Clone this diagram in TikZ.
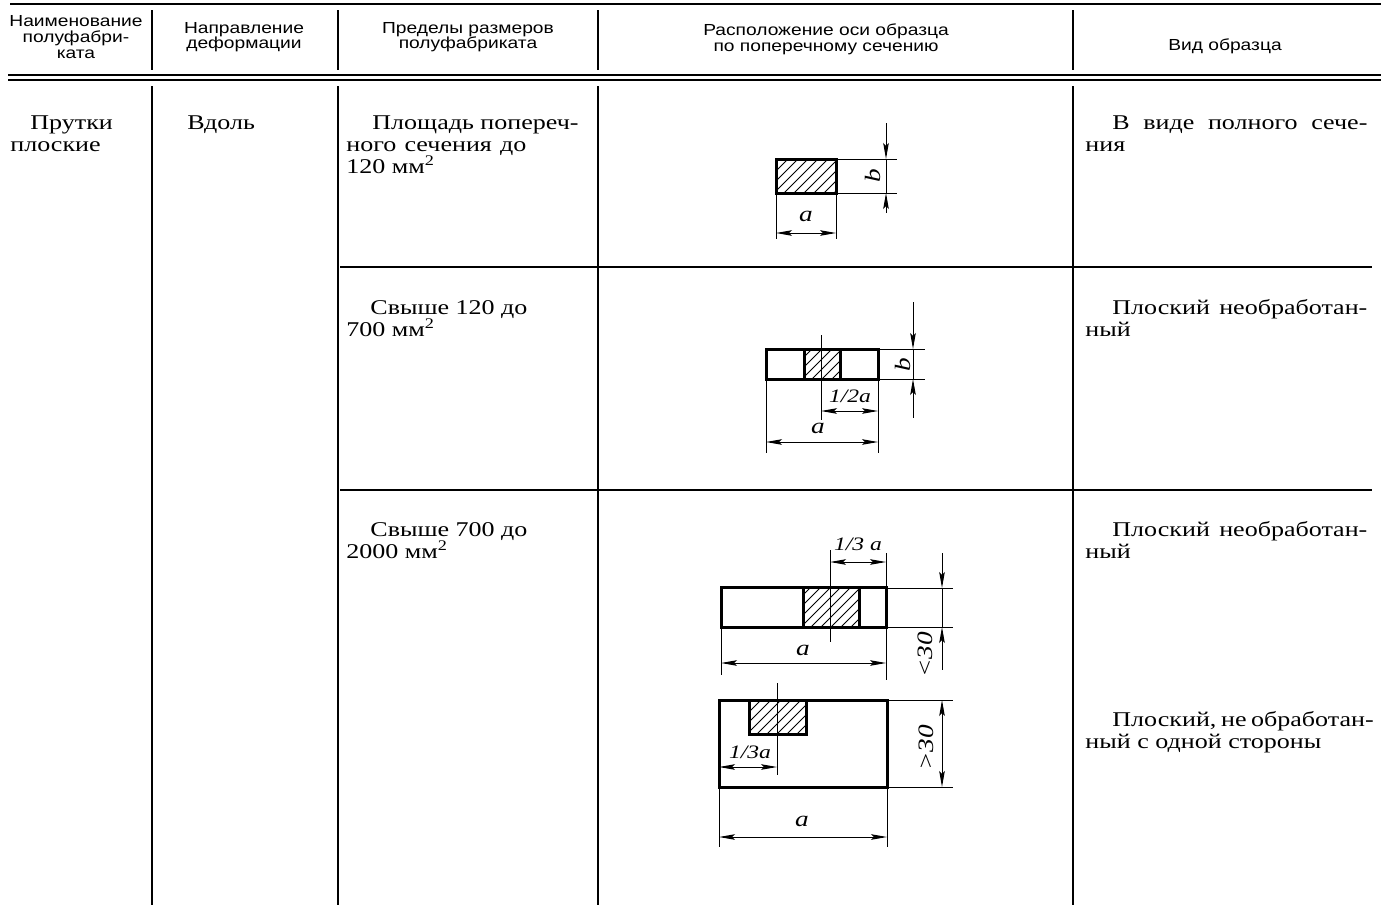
\documentclass[tikz,border=0pt]{standalone}
\usepackage{fontspec}
\setmainfont[FakeStretch=1.24]{Liberation Serif}
\newfontfamily\headfont[FakeStretch=1.2]{Liberation Sans}
\usetikzlibrary{arrows.meta}

\newcommand{\bodyfont}{\fontsize{10.5}{11}\selectfont\setlength{\lineskiplimit}{-20pt}}
\newcommand{\hatchbox}[4]{%
  \begin{scope}
    \clip (#1,#2) rectangle (#3,#4);
    \foreach \k in {-72,-62,...,90}
      \draw[hatch] ({#1+\k},#4) -- ++(100,-100);
  \end{scope}
  \draw[outline] (#1,#2) rectangle (#3,#4);
}

\begin{document}
\begin{tikzpicture}[x=0.5pt,y=-0.5pt,>={Stealth[length=8pt,width=2.8pt,inset=1.5pt]},
  rule/.style={line width=0.8pt},
  outline/.style={line width=1.5pt},
  hatch/.style={line width=0.5pt},
  thin/.style={line width=0.5pt},
  head/.style={align=center,inner sep=0pt,font=\headfont\fontsize{8}{7.8}\selectfont},
  body/.style={anchor=base west,align=left,inner sep=0pt,font=\bodyfont},
  dim/.style={inner sep=0pt,font=\itshape\fontsize{11}{11}\selectfont},
  smalldim/.style={inner sep=0pt,font=\itshape\fontsize{9.5}{9.5}\selectfont}]
\useasboundingbox (0,0) rectangle (1381,905);

% table rules
\draw[line width=1.2pt] (10,4) -- (1381,4);
\draw[line width=0.6pt] (8,75) -- (1381,75);
\draw[line width=0.9pt] (8,80) -- (1381,80);
\foreach \cx in {152,338,598,1073} {
  \draw[rule] (\cx,10) -- (\cx,70);
  \draw[rule] (\cx,86) -- (\cx,905);
}
\draw[line width=0.6pt] (340,267) -- (1372,267);
\draw[line width=0.6pt] (340,490) -- (1372,490);

% header
\node[head] (h1) at (76,37) {Наименование\\полуфабри-\\ката};
\node[head] (h2) at (244,37) {Направление\\деформации};
\node[head] (h3) at (468,37) {Пределы размеров\\полуфабриката};
\node[head] (h4) at (826,39) {Расположение оси образца\\по поперечному сечению};
\node[head] (h5) at (1225,46) {Вид образца};

% body (base = last line)
\node[body] (name) at (10,151) {\hspace*{10pt}Прутки\\плоские};
\node[body] (dir) at (187,129) {Вдоль};
\node[body] (lim1) at (346,173) {\hspace*{13pt}Площадь попереч-\\\makebox[90pt][s]{ного сечения до}\\120 мм\textsuperscript{2}};
\node[body] (lim2) at (346,336) {\hspace*{12pt}Свыше 120 до\\700 мм\textsuperscript{2}};
\node[body] (lim3) at (346,558) {\hspace*{12pt}Свыше 700 до\\2000 мм\textsuperscript{2}};
\node[body] (kind1) at (1085,151) {\hspace*{13.5pt}\makebox[127.5pt][s]{В виде полного сече-}\\ния};
\node[body] (kind2) at (1085,336) {\hspace*{13.5pt}\makebox[127.5pt][s]{Плоский необработан-}\\ный};
\node[body] (kind3) at (1085,558) {\hspace*{13.5pt}\makebox[127.5pt][s]{Плоский необработан-}\\ный};
\node[body] (kind4) at (1085,748) {\hspace*{13.5pt}\makebox[127.5pt][s]{Плоский, не обработан-}\\ный с одной стороны};

% sketch 1: full section
\hatchbox{776}{159}{836}{193}
\draw[thin] (836,159) -- (897,159) (836,193) -- (897,193);
\draw[thin,->] (886,123) -- (886,159);
\draw[thin] (886,159) -- (886,193);
\draw[thin,<-] (886,193) -- (886,213);
\draw[thin] (776,193) -- (776,239) (836,193) -- (836,239);
\draw[thin,<->] (776,233) -- (836,233);
\node[dim,rotate=90] (b1) at (873,176) {b};
\node[dim] (a1) at (806,216) {a};

% sketch 2
\draw[outline] (766,349) rectangle (878,379);
\hatchbox{804}{349}{840}{379}
\draw[thin] (821,335) -- (821,420);
\draw[thin] (878,379) -- (878,453) (766,379) -- (766,453);
\draw[thin] (878,349) -- (925,349) (878,379) -- (925,379);
\draw[thin,->] (913,302) -- (913,349);
\draw[thin] (913,349) -- (913,379);
\draw[thin,<-] (913,379) -- (913,418);
\draw[thin,<->] (821,411) -- (878,411);
\draw[thin,<->] (766,442) -- (878,442);
\node[dim,rotate=90] (b2) at (903,365) {b};
\node[smalldim] (half) at (850,396) {1/2a};
\node[dim] (a2) at (818,428) {a};

% sketch 3
\draw[outline] (721,587) rectangle (886,627);
\hatchbox{803}{587}{859}{627}
\draw[thin] (830,550) -- (830,642);
\draw[thin] (886,553) -- (886,680) (721,627) -- (721,675);
\draw[thin] (886,588) -- (953,588) (886,627) -- (953,627);
\draw[thin,->] (942,553) -- (942,588);
\draw[thin] (942,588) -- (942,627);
\draw[thin,<-] (942,627) -- (942,670);
\draw[thin,<->] (830,562) -- (886,562);
\draw[thin,<->] (721,663) -- (886,663);
\node[smalldim] (third1) at (858,544) {1/3 a};
\node[dim] (a3) at (803,650) {a};
\node[dim,rotate=90] (lt) at (925,655) {<30};

% sketch 4
\draw[outline] (719,700) rectangle (887,787);
\hatchbox{749}{700}{806}{734}
\draw[thin] (777,683) -- (777,775);
\draw[thin] (719,787) -- (719,847) (887,787) -- (887,847);
\draw[thin] (887,700) -- (953,700) (887,787) -- (953,787);
\draw[thin,<->] (942,700) -- (942,787);
\draw[thin,<->] (719,767) -- (777,767);
\draw[thin,<->] (719,837) -- (887,837);
\node[smalldim] (third2) at (750,752) {1/3a};
\node[dim] (a4) at (802,821) {a};
\node[dim,rotate=90] (gt) at (926,748) {>30};
\end{tikzpicture}
\end{document}
